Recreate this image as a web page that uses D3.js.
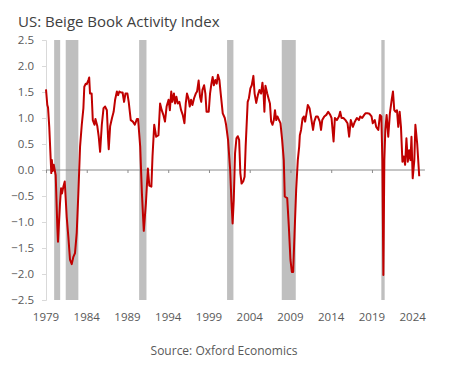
<!DOCTYPE html>
<html>

<head>
    <meta charset="UTF-8">
    <title>US: Beige Book Activity Index</title>
    <script src="https://cdn.jsdelivr.net/npm/d3@7"></script>
    <style>
        body { margin: 0; background: #fff; }
        text { font-family: "Open Sans", "Noto Sans", sans-serif; }
    </style>
</head>

<body>
    <script>
        // decimal years
        const dates = [
            1979.0, 1979.16, 1979.25, 1979.4, 1979.58, 1979.65, 1979.72, 1979.82, 1979.95,
            1980.19, 1980.39, 1980.47, 1980.72, 1980.85, 1980.97, 1981.13, 1981.3, 1981.54,
            1981.74, 1981.95, 1982.16, 1982.36, 1982.56, 1982.77, 1982.97, 1983.18, 1983.39,
            1983.59, 1983.7, 1983.88, 1984.0, 1984.2, 1984.3, 1984.4, 1984.6, 1984.74,
            1984.95, 1985.07, 1985.3, 1985.47, 1985.64, 1985.85, 1986.06, 1986.26, 1986.47,
            1986.62, 1986.7, 1986.87, 1987.1, 1987.3, 1987.48, 1987.7, 1987.85, 1988.0,
            1988.2, 1988.4, 1988.58, 1988.75, 1988.99, 1989.15, 1989.4, 1989.66, 1989.9,
            1990.15, 1990.3, 1990.56, 1990.77, 1991.0, 1991.26, 1991.5, 1991.68, 1991.93,
            1992.07, 1992.28, 1992.52, 1992.8, 1993.0, 1993.2, 1993.4, 1993.6, 1993.8,
            1994.04, 1994.2, 1994.37, 1994.5, 1994.7, 1994.84, 1995.0, 1995.17, 1995.37,
            1995.58, 1995.78, 1995.99, 1996.15, 1996.3, 1996.48, 1996.64, 1996.8, 1996.97,
            1997.17, 1997.38, 1997.54, 1997.73, 1997.9, 1998.05, 1998.2, 1998.4, 1998.56,
            1998.7, 1998.97, 1999.13, 1999.3, 1999.45, 1999.6, 1999.78, 1999.95, 2000.1,
            2000.28, 2000.44, 2000.69, 2000.94, 2001.1, 2001.34, 2001.6, 2001.75, 2001.9,
            2002.04, 2002.2, 2002.37, 2002.53, 2002.7, 2002.85, 2003.0, 2003.2, 2003.37,
            2003.5, 2003.75, 2003.9, 2004.08, 2004.25, 2004.45, 2004.6, 2004.8, 2005.0,
            2005.2, 2005.4, 2005.56, 2005.7, 2005.8, 2005.93, 2006.15, 2006.3, 2006.48,
            2006.63, 2006.8, 2006.96, 2007.1, 2007.25, 2007.4, 2007.6, 2007.77, 2007.98,
            2008.18, 2008.3, 2008.6, 2008.8, 2009.0, 2009.17, 2009.33, 2009.5, 2009.7,
            2009.9, 2010.07, 2010.15, 2010.3, 2010.48, 2010.64, 2010.8, 2010.97, 2011.13,
            2011.34, 2011.54, 2011.77, 2011.92, 2012.14, 2012.34, 2012.6, 2012.75, 2012.9,
            2013.15, 2013.4, 2013.63, 2013.88, 2014.04, 2014.29, 2014.45, 2014.7, 2014.95,
            2015.1, 2015.27, 2015.5, 2015.75, 2016.0, 2016.2, 2016.4, 2016.66, 2016.9,
            2017.15, 2017.4, 2017.56, 2017.8, 2018.05, 2018.2, 2018.45, 2018.7, 2018.95,
            2019.1, 2019.35, 2019.52, 2019.78, 2019.98, 2020.15, 2020.28, 2020.4, 2020.52,
            2020.64, 2020.8, 2021.0, 2021.2, 2021.42, 2021.58, 2021.74, 2021.9, 2022.07,
            2022.23, 2022.4, 2022.56, 2022.74, 2022.9, 2023.07, 2023.23, 2023.4, 2023.56,
            2023.73, 2023.85, 2024.0, 2024.2, 2024.33, 2024.55, 2024.8
        ];

        const activity = [
            1.55, 1.25, 1.2, 0.83, 0.19, -0.06, 0.19, -0.02, 0.1,
            -0.1, -1.09, -1.38, -0.64, -0.35, -0.45, -0.32, -0.22, -0.9,
            -1.28, -1.73, -1.81, -1.67, -1.6, -1.21, -0.45, 0.45, 0.87,
            1.19, 1.6, 1.66, 1.65, 1.73, 1.78, 1.47, 1.47, 0.96,
            0.87, 0.98, 0.84, 0.64, 0.35, 0.87, 1.19, 1.22, 1.15,
            0.61, 0.4, 0.84, 1.0, 1.12, 1.35, 1.51, 1.44, 1.51,
            1.49, 1.49, 1.31, 1.47, 1.47, 1.31, 0.96, 0.93, 0.87,
            0.98, 0.98, 0.45, -0.45, -1.17, -0.64, 0.03, -0.3, -0.32,
            0.26, 0.87, 0.64, 0.67, 1.28, 1.15, 1.06, 0.93, 1.22,
            1.35, 1.15, 1.51, 1.31, 1.47, 1.28, 1.41, 1.28, 1.31,
            1.15, 1.06, 0.9, 1.28, 1.47, 1.38, 1.22, 1.35, 1.25,
            1.38, 1.47, 1.51, 1.72, 1.41, 1.31, 1.54, 1.63, 1.47,
            1.12, 1.12, 1.47, 1.66, 1.79, 1.63, 1.73, 1.66, 1.83,
            1.73, 1.47, 1.09, 1.0, 0.87, 0.58, 0.0, -0.58, -1.03,
            -0.58, 0.32, 0.61, 0.65, 0.58, -0.06, -0.26, -0.22, -0.13,
            0.45, 1.31, 1.38, 1.57, 1.63, 1.81, 1.47, 1.29, 1.44,
            1.54, 1.47, 1.68, 1.47, 1.12, 1.62, 1.47, 1.38, 1.28,
            0.93, 0.87, 0.96, 1.15, 0.96, 1.03, 0.96, 0.9, 0.58,
            0.19, -0.51, -0.54, -1.09, -1.73, -1.96, -1.96, -1.22, -0.38,
            0.19, 0.45, 0.67, 0.77, 0.99, 1.03, 0.93, 1.09, 1.25,
            1.19, 1.0, 0.77, 0.93, 1.03, 1.03, 0.93, 0.77, 0.96,
            1.03, 1.06, 1.12, 1.06, 1.0, 0.55, 1.0, 0.96, 1.03,
            1.12, 1.0, 1.0, 0.96, 0.9, 0.64, 0.96, 0.83, 0.93,
            1.0, 0.96, 1.03, 1.0, 1.06, 1.09, 1.09, 1.08, 1.03,
            0.9, 0.96, 0.83, 0.77, 1.06, 1.03, 0.19, -2.02, 0.19,
            0.77, 1.06, 0.64, 1.09, 1.35, 1.51, 1.15, 1.12, 1.15,
            0.83, 1.12, 0.83, 0.16, 0.26, 0.1, 0.61, 0.16, 0.38,
            0.19, 0.64, -0.16, 0.19, 0.87, 0.51, -0.12
        ];

        // recession shading (start, end)
        const recessionStart = [1980.0, 1981.42, 1990.43, 2001.22, 2007.93, 2020.15];
        const recessionEnd = [1980.74, 1982.97, 1991.33, 2002.0, 2009.65, 2020.56];

        const xTicks = [1979, 1984, 1989, 1994, 1999, 2004, 2009, 2014, 2019, 2024];
        const yTicks = [2.5, 2.0, 1.5, 1.0, 0.5, 0.0, -0.5, -1.0, -1.5, -2.0, -2.5];

        const width = 474;
        const height = 371;

        const x = d3.scaleLinear().domain([1979, 2024]).range([46, 412.7]);
        const y = d3.scaleLinear().domain([-2.5, 2.5]).range([300, 40]);
        const xEnd = 2025.5;

        const svg = d3.select('body')
            .append('svg')
            .attr('width', width)
            .attr('height', height);

        svg.append('text')
            .attr('x', 18)
            .attr('y', 27)
            .attr('font-size', 15)
            .attr('fill', '#404040')
            .text('US: Beige Book Activity Index');

        // recession bars
        svg.append('g')
            .selectAll('rect')
            .data(recessionStart)
            .join('rect')
            .attr('x', d => x(d))
            .attr('width', (d, i) => x(recessionEnd[i]) - x(d))
            .attr('y', y(2.5))
            .attr('height', y(-2.5) - y(2.5))
            .attr('fill', '#bfbfbf');

        // y axis
        const yAxis = svg.append('g')
            .attr('transform', `translate(${x(1979)},0)`)
            .call(d3.axisLeft(y).tickValues(yTicks).tickFormat(d3.format('.1f')).tickSize(4).tickPadding(8));
        yAxis.select('.domain').attr('stroke', '#d9d9d9');
        yAxis.selectAll('.tick line').attr('stroke', '#d9d9d9');
        yAxis.selectAll('text')
            .attr('font-size', 11.5)
            .attr('fill', '#595959')
            .style('font-family', '"Open Sans", sans-serif');

        // x axis on the zero line
        const xAxis = svg.append('g')
            .attr('transform', `translate(0,${y(0)})`)
            .call(d3.axisBottom(x).tickValues(xTicks).tickSize(3).tickFormat(''));
        xAxis.select('.domain')
            .attr('d', `M${x(1979)},0H${x(xEnd)}`)
            .attr('stroke', '#8c8c8c');
        xAxis.selectAll('.tick line').attr('stroke', '#8c8c8c');

        svg.append('g')
            .selectAll('text')
            .data(xTicks)
            .join('text')
            .attr('x', d => x(d))
            .attr('y', 321)
            .attr('text-anchor', 'middle')
            .attr('font-size', 11.5)
            .attr('fill', '#595959')
            .text(d => d);

        // the index line
        const line = d3.line()
            .x((d, i) => x(dates[i]))
            .y(d => y(d));

        svg.append('path')
            .datum(activity)
            .attr('fill', 'none')
            .attr('stroke', '#c00000')
            .attr('stroke-width', 2)
            .attr('stroke-linejoin', 'round')
            .attr('d', line);

        svg.append('text')
            .attr('x', 224)
            .attr('y', 355)
            .attr('text-anchor', 'middle')
            .attr('font-size', 12)
            .attr('fill', '#595959')
            .text('Source: Oxford Economics');
    </script>
</body>

</html>
